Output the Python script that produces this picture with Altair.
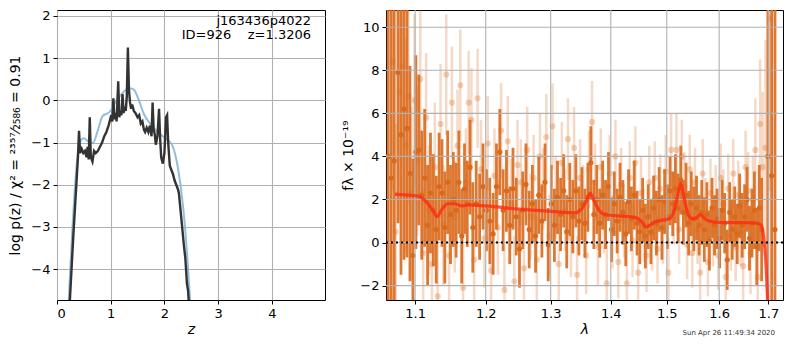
import altair as alt
import pandas as pd

# ---------------- left panel: p(z) ----------------
z_chi = [0.22, 0.30, 0.36, 0.39, 0.41, 0.43, 0.46, 0.49, 0.52, 0.55, 0.57, 0.59, 0.61, 0.63, 0.66,
         0.69, 0.72, 0.76, 0.80, 0.84, 0.88, 0.92, 0.96, 0.99, 1.01, 1.03, 1.05, 1.07, 1.09, 1.11,
         1.14, 1.16, 1.18, 1.20, 1.22, 1.24, 1.26, 1.28, 1.30, 1.32, 1.34, 1.36, 1.38, 1.40, 1.43,
         1.46, 1.50, 1.53, 1.56, 1.59, 1.62, 1.64, 1.67, 1.70, 1.73, 1.76, 1.78, 1.80, 1.82, 1.84,
         1.87, 1.90, 1.92, 1.94, 1.97, 2.00, 2.03, 2.05, 2.07, 2.10, 2.13, 2.16, 2.19, 2.22, 2.25,
         2.27, 2.30, 2.33, 2.36, 2.39, 2.42, 2.44, 2.46, 2.48]
logp_chi = [-5.2, -3.3, -2.0, -1.35, -0.72, -1.25, -1.15, -1.25, -1.20, -1.35, -1.10, -1.40, -0.40, -1.35, -1.45,
            -1.20, -1.25, -1.20, -1.10, -1.00, -0.85, -0.75, -0.60, -0.45, -0.35, -0.50, 0.05, -0.45, -0.30, -0.50,
            0.45, -0.40, -0.25, -0.35, 0.15, -0.30, -0.15, -0.25, 0.10, 1.25, 0.25, -0.05, -0.20, -0.10, -0.25,
            -0.30, -0.40, -0.35, -0.55, -0.50, -0.70, -0.75, -0.65, -0.75, -0.60, -0.85, -0.05, -0.70, -0.80, -1.05,
            -0.85, -0.20, -0.90, -1.35, -1.50, -1.25, -0.40, -0.35, -1.00, -1.55, -1.65, -1.75, -1.90, -2.00, -2.10,
            -2.20, -2.60, -3.00, -3.40, -3.75, -4.35, -4.50, -4.90, -5.30]

z_pz = [0.20, 0.28, 0.36, 0.42, 0.50, 0.58, 0.67, 0.76, 0.85, 0.94, 1.00, 1.10, 1.19, 1.31, 1.38,
        1.44, 1.53, 1.62, 1.74, 1.87, 2.02, 2.14, 2.22, 2.29, 2.36, 2.42, 2.48, 2.52]
logp_pz = [-5.2, -3.2, -1.62, -1.01, -0.90, -0.97, -1.01, -0.71, -0.37, -0.31, -0.25, -0.02, 0.13, 0.27, 0.28,
           0.24, -0.02, -0.33, -0.56, -0.75, -0.90, -1.05, -1.39, -1.92, -2.68, -3.60, -4.75, -5.3]

# ---------------- right panel: spectrum ----------------
lam_dark = [1.064, 1.068, 1.072, 1.077, 1.081, 1.085, 1.089, 1.093, 1.097, 1.101, 1.105, 1.109, 1.113, 1.117,
            1.121, 1.125, 1.129, 1.133, 1.137, 1.141, 1.145, 1.149, 1.153, 1.157, 1.161, 1.165, 1.169, 1.173,
            1.177, 1.181, 1.186, 1.191, 1.196, 1.201, 1.206, 1.211, 1.216, 1.221, 1.226, 1.231, 1.236, 1.241,
            1.246, 1.251, 1.256, 1.261, 1.266, 1.271, 1.276, 1.281, 1.286, 1.291, 1.296, 1.301, 1.306, 1.311,
            1.316, 1.321, 1.326, 1.331, 1.336, 1.341, 1.346, 1.351, 1.356, 1.361, 1.366, 1.371, 1.376, 1.381,
            1.386, 1.391, 1.396, 1.401, 1.406, 1.411, 1.416, 1.421, 1.426, 1.431, 1.436, 1.441, 1.446, 1.451,
            1.456, 1.461, 1.466, 1.471, 1.476, 1.481, 1.486, 1.491, 1.496, 1.501, 1.506, 1.511, 1.516, 1.521,
            1.526, 1.531, 1.536, 1.541, 1.546, 1.551, 1.556, 1.561, 1.566, 1.571, 1.576, 1.581, 1.586, 1.591,
            1.596, 1.601, 1.606, 1.611, 1.616, 1.621, 1.626, 1.631, 1.636, 1.641, 1.646, 1.651, 1.656, 1.661,
            1.666, 1.671, 1.676, 1.681, 1.686, 1.699, 1.707, 1.714]
flux_dark = [4.0, 3.0, 3.8, 7.9, 5.0, 6.2, 5.3, 3.2, -0.6, 4.2, 4.3, 2.2, 3.0, 0.8,
             2.3, 1.5, 0.6, 2.6, 2.3, 0.7, 2.8, 1.3, 2.0, 1.5, 2.8, 0.3, 2.5, 1.8,
             3.5, 0.7, 1.8, 1.2, 2.6, 1.5, 1.0, 0.4, 2.6, 4.2, 1.5, 2.4, 0.8, 2.5,
             1.2, -0.3, 1.5, 2.7, 0.6, 1.8, 0.3, 2.2, 1.0, 2.8, -0.1, 1.8, 0.8, 2.1,
             1.3, 2.4, 0.5, 2.0, 1.2, 2.4, 1.0, 1.8, 0.9, 2.1, 3.7, 1.3, 2.0, 0.9,
             2.2, 1.3, 2.6, 0.6, 1.8, 1.0, 2.1, 1.4, 0.4, 1.9, 1.1, 2.2, 0.9, 0.5,
             1.5, 0.3, 1.2, 0.5, 1.6, 0.9, 2.0, 0.7, 1.9, 1.2, 2.4, 1.8, 2.5, 1.6,
             2.9, 1.4, 2.2, 0.9, 1.8, 1.1, 1.6, 0.8, 1.4, 0.6, 1.3, 0.1, 1.6, 0.8,
             1.1, 0.2, 1.5, 0.9, -0.8, 1.4, 0.6, 1.2, 0.4, 1.7, 0.8, 1.2, 2.0, 0.2,
             0.9, 1.5, -0.2, 1.6, 0.6, 4.0, 3.1, 0.6]
err_dark = [12, 10, 8, 7, 6.5, 7, 6, 5, 4.5, 4.5, 3.5, 3.0, 3.2, 2.8,
            2.8, 2.6, 2.5, 2.5, 2.5, 2.6, 2.4, 2.3, 2.2, 2.2, 2.4, 2.2, 2.1, 2.0,
            2.2, 2.1, 2.0, 2.0, 2.0, 1.9, 2.0, 1.9, 2.0, 2.0, 1.9, 1.9, 1.8, 1.9,
            1.8, 1.8, 1.8, 1.9, 1.8, 1.8, 1.7, 1.8, 1.7, 1.8, 1.7, 1.8, 1.7, 1.7,
            1.7, 1.7, 1.7, 1.7, 1.7, 1.7, 1.6, 1.7, 1.6, 1.6, 1.7, 1.6, 1.6, 1.6,
            1.6, 1.6, 1.6, 1.5, 1.5, 1.5, 1.6, 1.5, 1.5, 1.5, 1.5, 1.6, 1.5, 1.5,
            1.5, 1.5, 1.5, 1.5, 1.5, 1.5, 1.5, 1.5, 1.5, 1.5, 1.6, 1.5, 1.6, 1.6,
            1.6, 1.5, 1.5, 1.5, 1.5, 1.5, 1.5, 1.4, 1.5, 1.5, 1.5, 1.4, 1.4, 1.4,
            1.4, 1.4, 1.4, 1.4, 1.4, 1.4, 1.4, 1.4, 1.4, 1.5, 1.5, 1.5, 1.5, 1.5,
            1.6, 1.8, 1.8, 2.0, 2.4, 15, 12, 13]

lam_light = [1.070, 1.074, 1.079, 1.083, 1.087, 1.091, 1.095, 1.099, 1.103, 1.107, 1.111, 1.115, 1.119, 1.123,
             1.127, 1.131, 1.135, 1.139, 1.143, 1.147, 1.151, 1.155, 1.159, 1.163, 1.167, 1.171, 1.175, 1.179,
             1.183, 1.188, 1.193, 1.198, 1.203, 1.208, 1.213, 1.218, 1.223, 1.228, 1.233, 1.238, 1.243, 1.248,
             1.253, 1.258, 1.263, 1.268, 1.273, 1.278, 1.283, 1.288, 1.293, 1.298, 1.303, 1.308, 1.313, 1.318,
             1.323, 1.328, 1.333, 1.338, 1.343, 1.348, 1.353, 1.358, 1.363, 1.368, 1.373, 1.378, 1.383, 1.388,
             1.393, 1.398, 1.403, 1.408, 1.413, 1.418, 1.423, 1.428, 1.433, 1.438, 1.443, 1.448, 1.453, 1.458,
             1.463, 1.468, 1.473, 1.478, 1.483, 1.488, 1.493, 1.498, 1.503, 1.508, 1.513, 1.518, 1.523, 1.528,
             1.533, 1.538, 1.543, 1.548, 1.553, 1.558, 1.563, 1.568, 1.573, 1.578, 1.583, 1.588, 1.593, 1.598,
             1.603, 1.608, 1.613, 1.618, 1.623, 1.628, 1.633, 1.638, 1.643, 1.648, 1.653, 1.658, 1.663, 1.668,
             1.673, 1.678, 1.683, 1.688, 1.694, 1.703]
flux_light = [8.4, 0.5, 7.0, 8.2, 4.5, 6.8, 2.3, 6.6, 3.8, 7.6, -0.5, 5.8, 1.5, -1.0,
              3.5, -2.5, 5.5, 0.8, 7.8, -0.6, 6.5, 1.2, 4.5, 7.3, -2.1, 2.8, 6.5, 5.7,
              -0.8, 6.7, 3.4, 0.2, 4.6, -1.3, 3.1, 0.7, 5.2, -2.2, 4.7, 1.8, -1.8, 3.6,
              2.8, -1.2, 4.3, 1.2, 3.0, -0.8, 4.0, 2.5, 4.9, 0.3, 5.4, 2.1, -1.0, 3.7,
              1.5, 4.8, 0.2, 4.4, -1.5, 3.0, 1.8, -0.6, 3.4, 5.6, 2.8, -0.2, 3.5, 1.2,
              -1.9, 3.2, 0.5, 4.0, -0.9, 2.7, 1.0, -1.9, 3.0, 0.1, 3.7, -1.4, 2.3, 0.8,
              -0.6, 2.8, 0.4, 3.0, -0.3, 2.5, 0.6, 3.3, -1.4, 4.3, 1.5, 4.3, 0.6, 4.0,
              2.6, -0.1, 3.4, -0.5, 2.8, 0.6, -1.4, 3.2, 1.4, -0.9, 2.3, 0.5, 2.0, -0.6,
              3.0, 1.8, -1.6, 2.5, 0.3, 3.2, -0.2, 2.2, 0.5, -1.1, 3.5, 2.4, -0.5, 2.0,
              4.3, -1.6, 5.5, 3.5, 4.4, 10.4]
err_light = [6, 5, 6, 6, 5, 5, 4, 4, 3.5, 3.5, 3.0, 3, 3, 3,
             3, 3, 2.8, 2.8, 2.8, 2.7, 2.6, 2.6, 2.6, 2.6, 2.5, 2.5, 2.4, 2.4,
             2.4, 2.3, 2.3, 2.3, 2.2, 2.2, 2.2, 2.2, 2.2, 2.1, 2.1, 2.1, 2.1, 2.1,
             2.0, 2.0, 2.0, 2.0, 2.0, 2.0, 2.0, 1.9, 2.0, 1.9, 2.0, 1.9, 1.9, 1.9,
             1.9, 1.9, 1.8, 1.9, 1.8, 1.8, 1.8, 1.8, 1.8, 1.9, 1.8, 1.8, 1.8, 1.7,
             1.8, 1.8, 1.7, 1.7, 1.7, 1.7, 1.7, 1.7, 1.7, 1.7, 1.7, 1.7, 1.7, 1.7,
             1.7, 1.7, 1.7, 1.7, 1.6, 1.6, 1.6, 1.7, 1.6, 1.7, 1.6, 1.7, 1.6, 1.7,
             1.6, 1.6, 1.6, 1.6, 1.6, 1.6, 1.6, 1.6, 1.6, 1.6, 1.6, 1.6, 1.6, 1.6,
             1.6, 1.6, 1.6, 1.6, 1.6, 1.6, 1.6, 1.6, 1.6, 1.7, 1.7, 1.8, 1.9, 2.0,
             2.4, 2.5, 3.0, 3.5, 5, 8]

lam_model = [1.073, 1.09, 1.105, 1.115, 1.125, 1.130, 1.137, 1.145, 1.155, 1.165, 1.175, 1.2, 1.25, 1.3,
             1.34, 1.35, 1.358, 1.365, 1.372, 1.38, 1.39, 1.42, 1.44, 1.455, 1.462, 1.47, 1.48, 1.495,
             1.505, 1.515, 1.522, 1.526, 1.532, 1.54, 1.548, 1.556, 1.563, 1.57, 1.58, 1.6, 1.65, 1.675,
             1.685, 1.69, 1.695, 1.70]
flux_model = [2.25, 2.2, 2.15, 1.9, 1.45, 1.2, 1.55, 1.8, 1.8, 1.7, 1.75, 1.7, 1.55, 1.45,
              1.38, 1.55, 1.9, 2.3, 1.9, 1.5, 1.3, 1.22, 1.18, 0.95, 0.72, 0.82, 0.98, 1.05,
              1.1, 1.6, 2.4, 2.75, 2.1, 1.3, 1.1, 1.15, 1.3, 1.15, 1.0, 0.93, 0.92, 0.9,
              0.8, 0.3, -1.0, -3.5]

z_ticks = [0, 1, 2, 3, 4]
logp_ticks = [-4, -3, -2, -1, 0, 1, 2]
lam_ticks = [1.1, 1.2, 1.3, 1.4, 1.5, 1.6, 1.7]
flux_ticks = [-2, 0, 2, 4, 6, 8, 10]

FONT = "DejaVu Sans"
ORANGE = "#d9691c"
GRID = "#b0b0b0"

df_chi = pd.DataFrame({"z": z_chi, "logp": logp_chi})
df_pz = pd.DataFrame({"z": z_pz, "logp": logp_pz})
df_dark = pd.DataFrame({"lam": lam_dark, "flux": flux_dark, "err": err_dark})
df_dark["lo"] = df_dark["flux"] - df_dark["err"]
df_dark["hi"] = df_dark["flux"] + df_dark["err"]
df_light = pd.DataFrame({"lam": lam_light, "flux": flux_light, "err": err_light})
df_light["lo"] = df_light["flux"] - df_light["err"]
df_light["hi"] = df_light["flux"] + df_light["err"]
df_model = pd.DataFrame({"lam": lam_model, "flux": flux_model})
one = pd.DataFrame({"k": [0]})

W1, W2, H = 268, 397, 290

zx = alt.X("z:Q", scale=alt.Scale(domain=[0, 4.99], nice=False, zero=False),
           axis=alt.Axis(values=z_ticks, title="z", titleFontStyle="italic", format="d"))
zy = alt.Y("logp:Q", scale=alt.Scale(domain=[-4.73, 2.14], nice=False, zero=False),
           axis=alt.Axis(values=logp_ticks, format="d",
                         title="log p(z) / χ² = ²³⁵⁷⁄₂₅₈₆ = 0.91", titlePadding=8))

blue = alt.Chart(df_pz).mark_line(color="#7fb1d8", strokeWidth=2, opacity=0.85, clip=True,
                                  interpolate="monotone").encode(x=zx, y=zy)
black = alt.Chart(df_chi).mark_line(color="#333333", strokeWidth=2.4, clip=True).encode(x=zx, y=zy)
t1 = alt.Chart(one).mark_text(text="j163436p4022", align="right", font=FONT, fontSize=13,
                              color="black").encode(x=alt.value(254), y=alt.value(11))
t2 = alt.Chart(one).mark_text(text="ID=926\u00a0\u00a0\u00a0\u00a0z=1.3206", align="right", font=FONT,
                              fontSize=13, color="black").encode(x=alt.value(254), y=alt.value(25))
left = alt.layer(blue, black, t1, t2).properties(width=W1, height=H)

lam_scale = alt.Scale(type="log", domain=[1.0612, 1.731], nice=False, zero=False)
flux_scale = alt.Scale(domain=[-2.67, 10.8], nice=False, zero=False)
lx = alt.X("lam:Q", scale=lam_scale,
           axis=alt.Axis(values=lam_ticks, format=".1f", title="λ", titleFontStyle="italic", grid=False))
ly = alt.Y("flux:Q", scale=flux_scale,
           axis=alt.Axis(values=flux_ticks, format="d", title="fλ × 10⁻¹⁹", titlePadding=4, grid=False))

lbars = alt.Chart(df_light).mark_rule(color=ORANGE, strokeWidth=2.5, opacity=0.25, clip=True).encode(
    x=lx, y=alt.Y("lo:Q", scale=flux_scale), y2="hi:Q")
lpts = alt.Chart(df_light).mark_circle(color=ORANGE, size=38, opacity=0.3, clip=True).encode(x=lx, y=ly)
dbars = alt.Chart(df_dark).mark_rule(color=ORANGE, strokeWidth=2.8, opacity=0.9, clip=True).encode(
    x=lx, y=alt.Y("lo:Q", scale=flux_scale), y2="hi:Q")
dpts = alt.Chart(df_dark).mark_circle(color=ORANGE, size=26, opacity=1, clip=True).encode(x=lx, y=ly)
vgrid = alt.Chart(pd.DataFrame({"lam": lam_ticks})).mark_rule(color=GRID, strokeWidth=1.1).encode(x=lx)
hgrid = alt.Chart(pd.DataFrame({"flux": flux_ticks})).mark_rule(color=GRID, strokeWidth=1.1, clip=True).encode(y=ly)
model = alt.Chart(df_model).mark_line(color="#ff2a10", strokeWidth=3.2, opacity=0.8, clip=True,
                                      interpolate="monotone").encode(x=lx, y=ly)
zero = alt.Chart(pd.DataFrame({"flux": [0]})).mark_rule(color="black", strokeWidth=2,
                                                        strokeDash=[2, 3]).encode(y=ly)
stamp = alt.Chart(one).mark_text(
    text="Sun Apr 26 11:49:34 2020", align="right", font=FONT, fontSize=7, color="#333333"
).encode(x=alt.value(W2 - 8), y=alt.value(H + 33))
right = alt.layer(lbars, lpts, dbars, dpts, vgrid, hgrid, model, zero, stamp).properties(width=W2, height=H)

chart = alt.hconcat(left, right, spacing=15).properties(
    padding={"left": 0, "top": 0, "right": 0, "bottom": 0}
).configure_view(stroke="black", strokeWidth=1).configure_axis(
    labelFont=FONT, titleFont=FONT, labelFontSize=13, titleFontSize=14, titleFontWeight="normal",
    labelColor="black", titleColor="black", tickColor="black", tickSize=4, labelPadding=3,
    domain=False, gridColor=GRID, gridWidth=1.1
).configure_axisX(titlePadding=2)

chart.save("out.html", embed_options={"renderer": "svg", "actions": False})
